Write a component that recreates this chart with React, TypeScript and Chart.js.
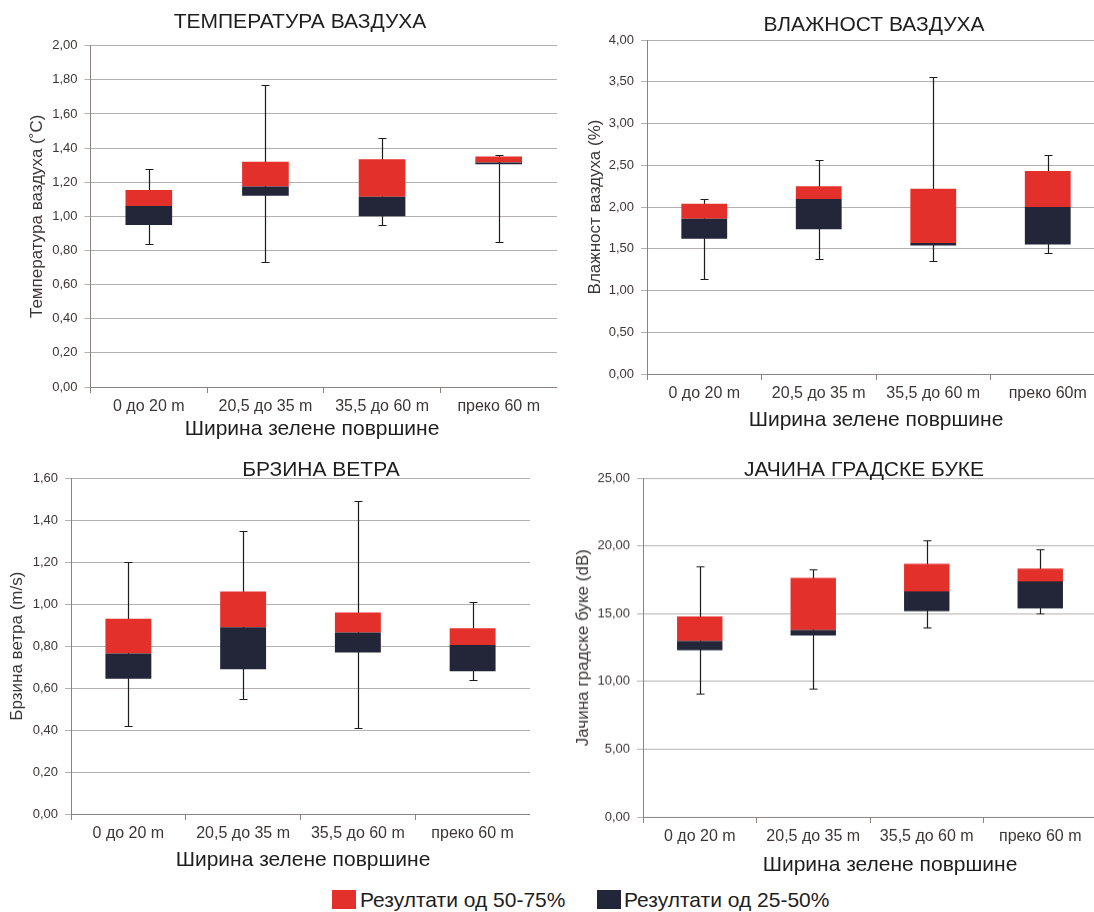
import React, { useEffect, useRef } from "react";
import { Chart, registerables } from "chart.js";

Chart.register(...registerables);

// ---------- DATA ----------
const categories = ["0 до 20 m", "20,5 до 35 m", "35,5 до 60 m", "преко 60 m"];
const categoriesHumidity = ["0 до 20 m", "20,5 до 35 m", "35,5 до 60 m", "преко 60m"];

// Температура ваздуха (°C)
const tempMin = [0.84, 0.73, 0.95, 0.85];
const tempQ1 = [0.95, 1.12, 1.0, 1.305];
const tempMedian = [1.06, 1.175, 1.115, 1.315];
const tempQ3 = [1.155, 1.32, 1.335, 1.35];
const tempMax = [1.28, 1.77, 1.46, 1.36];

// Влажност ваздуха (%)
const humMin = [1.14, 1.375, 1.35, 1.45];
const humQ1 = [1.62, 1.735, 1.54, 1.55];
const humMedian = [1.86, 2.095, 1.57, 2.0];
const humQ3 = [2.04, 2.25, 2.22, 2.43];
const humMax = [2.09, 2.56, 3.56, 2.625];

// Брзина ветра (m/s)
const windMin = [0.42, 0.55, 0.41, 0.64];
const windQ1 = [0.645, 0.69, 0.77, 0.68];
const windMedian = [0.765, 0.89, 0.865, 0.805];
const windQ3 = [0.93, 1.06, 0.96, 0.885];
const windMax = [1.2, 1.35, 1.49, 1.01];

// Јачина градске буке (dB)
const noiseMin = [9.1, 9.5, 14.0, 15.05];
const noiseQ1 = [12.3, 13.4, 15.2, 15.4];
const noiseMedian = [13.0, 13.8, 16.65, 17.4];
const noiseQ3 = [14.8, 17.65, 18.7, 18.35];
const noiseMax = [18.5, 18.3, 20.4, 19.8];

const legendUpper = "Резултати од 50-75%";
const legendLower = "Резултати од 25-50%";
const xAxisTitle = "Ширина зелене површине";

// ---------- STYLE ----------
const FONT = "'Liberation Sans', Arial, sans-serif";
const RED = "#e4302b";
const NAVY = "#232539";
const GRID = "#b5b0b0";
const AXIS = "#8c8282";
const TEXT = "#3d3636";
const TITLE = "#1e1e1e";

type BoxProps = {
  left: number;
  top: number;
  width: number;
  height: number;
  padTop: number;
  yWidth: number;
  xHeight: number;
  yTitlePad: number;
  labels: string[];
  min: number[];
  q1: number[];
  median: number[];
  q3: number[];
  max: number[];
  yMax: number;
  yStep: number;
  yTitle: string;
};

function makeWhiskers(min: number[], max: number[]) {
  return {
    id: "whiskers",
    beforeDatasetsDraw(chart: any) {
      const { ctx } = chart;
      const x = chart.scales.x;
      const y = chart.scales.y;
      ctx.save();
      ctx.strokeStyle = "#1c1c1c";
      ctx.lineWidth = 1.2;
      min.forEach((lo: number, i: number) => {
        const px = Math.round(x.getPixelForValue(i)) + 0.5;
        const yLo = Math.round(y.getPixelForValue(lo)) + 0.5;
        const yHi = Math.round(y.getPixelForValue(max[i])) + 0.5;
        ctx.beginPath();
        ctx.moveTo(px, yLo);
        ctx.lineTo(px, yHi);
        ctx.moveTo(px - 4, yLo);
        ctx.lineTo(px + 4, yLo);
        ctx.moveTo(px - 4, yHi);
        ctx.lineTo(px + 4, yHi);
        ctx.stroke();
      });
      ctx.restore();
    },
  };
}

function BoxChart(p: BoxProps) {
  const ref = useRef<HTMLCanvasElement | null>(null);
  useEffect(() => {
    if (!ref.current) return;
    const chart = new Chart(ref.current, {
      type: "bar",
      data: {
        labels: p.labels,
        datasets: [
          {
            label: legendLower,
            data: p.q1.map((v, i) => [v, p.median[i]]) as any,
            backgroundColor: NAVY,
            borderWidth: 0,
            barPercentage: 0.4,
            categoryPercentage: 1,
          },
          {
            label: legendUpper,
            data: p.median.map((v, i) => [v, p.q3[i]]) as any,
            backgroundColor: RED,
            borderWidth: 0,
            barPercentage: 0.4,
            categoryPercentage: 1,
          },
        ],
      },
      options: {
        animation: false,
        responsive: false,
        maintainAspectRatio: false,
        layout: { padding: { top: p.padTop, left: 0, right: 0, bottom: 0 } },
        plugins: {
          legend: { display: false },
          tooltip: { enabled: false },
          title: { display: false },
        },
        scales: {
          x: {
            stacked: true,
            grid: {
              display: true,
              drawOnChartArea: false,
              drawTicks: true,
              tickLength: 6,
              color: AXIS,
              offset: true,
            },
            border: { color: AXIS, width: 1 },
            ticks: {
              font: { family: FONT, size: 16 },
              color: TEXT,
              padding: 4,
              maxRotation: 0,
              autoSkip: false,
            },
            afterFit: (s: any) => {
              s.height = p.xHeight;
            },
          },
          y: {
            min: 0,
            max: p.yMax,
            ticks: {
              stepSize: p.yStep,
              font: { family: FONT, size: 13 },
              color: TEXT,
              padding: 7,
              callback: (v: any) => Number(v).toFixed(2).replace(".", ","),
            },
            grid: { color: GRID, tickLength: 6, lineWidth: 1 },
            border: { color: AXIS, width: 1 },
            title: {
              display: true,
              text: p.yTitle,
              font: { family: FONT, size: 17 },
              color: TEXT,
              padding: { top: p.yTitlePad, bottom: 0 },
            },
            afterFit: (s: any) => {
              s.width = p.yWidth;
            },
          },
        },
      },
      plugins: [makeWhiskers(p.min, p.max)],
    });
    return () => chart.destroy();
  }, []);
  return (
    <canvas
      ref={ref}
      width={p.width}
      height={p.height}
      style={{
        position: "absolute",
        left: p.left,
        top: p.top,
        width: p.width,
        height: p.height,
      }}
    />
  );
}

function Label(props: { text: string; cx: number; cy: number; size: number; color: string }) {
  return (
    <div
      style={{
        position: "absolute",
        left: props.cx - 250,
        top: props.cy - 12,
        width: 500,
        height: 24,
        lineHeight: "24px",
        textAlign: "center",
        fontFamily: FONT,
        fontSize: props.size,
        color: props.color,
        whiteSpace: "nowrap",
      }}
    >
      {props.text}
    </div>
  );
}

export default function App() {
  return (
    <div
      style={{
        position: "absolute",
        left: 0,
        top: 0,
        width: 1094,
        height: 912,
        overflow: "hidden",
        background: "#ffffff",
      }}
    >
      <BoxChart
        left={0}
        top={0}
        width={557}
        height={427}
        padTop={45.7}
        yWidth={90.5}
        xHeight={40}
        yTitlePad={26.8}
        labels={categories}
        min={tempMin}
        q1={tempQ1}
        median={tempMedian}
        q3={tempQ3}
        max={tempMax}
        yMax={2}
        yStep={0.2}
        yTitle="Температура ваздуха (˚C)"
      />
      <BoxChart
        left={550}
        top={0}
        width={555}
        height={414.3}
        padTop={40}
        yWidth={97}
        xHeight={40}
        yTitlePad={34.8}
        labels={categoriesHumidity}
        min={humMin}
        q1={humQ1}
        median={humMedian}
        q3={humQ3}
        max={humMax}
        yMax={4}
        yStep={0.5}
        yTitle="Влажност ваздуха (%)"
      />
      <BoxChart
        left={0}
        top={450}
        width={530}
        height={404.3}
        padTop={28.3}
        yWidth={71}
        xHeight={40}
        yTitlePad={7.3}
        labels={categories}
        min={windMin}
        q1={windQ1}
        median={windMedian}
        q3={windQ3}
        max={windMax}
        yMax={1.6}
        yStep={0.2}
        yTitle="Брзина ветра (m/s)"
      />
      <BoxChart
        left={550}
        top={450}
        width={547}
        height={406.7}
        padTop={28.3}
        yWidth={93}
        xHeight={40}
        yTitlePad={22.8}
        labels={categories}
        min={noiseMin}
        q1={noiseQ1}
        median={noiseMedian}
        q3={noiseQ3}
        max={noiseMax}
        yMax={25}
        yStep={5}
        yTitle="Јачина градске буке (dB)"
      />

      <Label text="ТЕМПЕРАТУРА ВАЗДУХА" cx={300} cy={21} size={21} color={TITLE} />
      <Label text="ВЛАЖНОСТ ВАЗДУХА" cx={874} cy={24} size={21} color={TITLE} />
      <Label text="БРЗИНА ВЕТРА" cx={321} cy={469} size={21} color={TITLE} />
      <Label text="ЈАЧИНА ГРАДСКЕ БУКЕ" cx={864} cy={469} size={21} color={TITLE} />

      <Label text={xAxisTitle} cx={312} cy={428} size={21} color={TITLE} />
      <Label text={xAxisTitle} cx={876} cy={419} size={21} color={TITLE} />
      <Label text={xAxisTitle} cx={303} cy={859} size={21} color={TITLE} />
      <Label text={xAxisTitle} cx={890} cy={864} size={21} color={TITLE} />

      <div style={{ position: "absolute", left: 332, top: 890, width: 24, height: 19, background: RED }} />
      <div
        style={{
          position: "absolute",
          left: 360,
          top: 888,
          height: 24,
          lineHeight: "24px",
          fontFamily: FONT,
          fontSize: 21,
          color: TITLE,
          whiteSpace: "nowrap",
        }}
      >
        {legendUpper}
      </div>
      <div style={{ position: "absolute", left: 597, top: 890, width: 24, height: 19, background: NAVY }} />
      <div
        style={{
          position: "absolute",
          left: 624,
          top: 888,
          height: 24,
          lineHeight: "24px",
          fontFamily: FONT,
          fontSize: 21,
          color: TITLE,
          whiteSpace: "nowrap",
        }}
      >
        {legendLower}
      </div>
    </div>
  );
}
